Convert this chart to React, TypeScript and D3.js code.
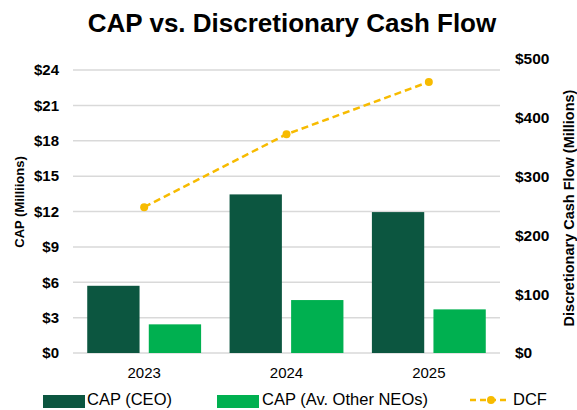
import { useEffect, useRef } from "react";
import * as d3 from "d3";

const years = ["2023", "2024", "2025"];
const capCeo = [5.7, 13.45, 11.95];
const capNeo = [2.43, 4.49, 3.7];
const dcf = [248, 372, 461];
const leftTicks = [0, 3, 6, 9, 12, 15, 18, 21, 24];
const rightTicks = [0, 100, 200, 300, 400, 500];

function App() {
  const svgRef = useRef(null);

  useEffect(() => {
    const width = 577;
    const height = 410;
    const left = 73;
    const right = 500;
    const bottom = 353;

    const colors = {
      ceo: "#0c5640",
      neo: "#00b050",
      dcf: "#f7bb00",
    };

    const svg = d3
      .select(svgRef.current)
      .attr("width", width)
      .attr("height", height)
      .style("font-family", "Liberation Sans, Arial, sans-serif");

    svg.selectAll("*").remove();

    const x = d3
      .scaleBand()
      .domain(years)
      .range([left, right])
      .paddingInner(0.2)
      .paddingOuter(0.1);

    const xSub = d3
      .scaleBand()
      .domain(["ceo", "neo"])
      .range([0, x.bandwidth()])
      .paddingInner(0.15);

    const yLeft = d3.scaleLinear().domain([0, 24]).range([bottom, 70]);
    const yRight = d3.scaleLinear().domain([0, 500]).range([bottom, 59]);

    // title
    svg
      .append("text")
      .attr("x", 292)
      .attr("y", 32)
      .attr("text-anchor", "middle")
      .style("font-size", "26px")
      .style("font-weight", "bold")
      .text("CAP vs. Discretionary Cash Flow");

    // gridlines
    svg
      .selectAll(".grid")
      .data(leftTicks)
      .enter()
      .append("line")
      .attr("x1", left)
      .attr("x2", right)
      .attr("y1", (d) => yLeft(d))
      .attr("y2", (d) => yLeft(d))
      .attr("stroke", "#d9d9d9")
      .attr("stroke-width", 1.5);

    // left tick labels
    svg
      .selectAll(".ltick")
      .data(leftTicks)
      .enter()
      .append("text")
      .attr("x", 59)
      .attr("y", (d) => yLeft(d))
      .attr("dy", "0.35em")
      .attr("text-anchor", "end")
      .style("font-size", "15px")
      .style("font-weight", "bold")
      .text((d) => `$${d}`);

    // right tick labels
    svg
      .selectAll(".rtick")
      .data(rightTicks)
      .enter()
      .append("text")
      .attr("x", 515)
      .attr("y", (d) => yRight(d))
      .attr("dy", "0.35em")
      .style("font-size", "15.5px")
      .style("font-weight", "bold")
      .text((d) => `$${d}`);

    // axis titles
    svg
      .append("text")
      .attr("transform", "translate(24,202) rotate(-90)")
      .attr("text-anchor", "middle")
      .style("font-size", "13px")
      .style("font-weight", "bold")
      .text("CAP (Milliions)");

    svg
      .append("text")
      .attr("transform", "translate(574,208) rotate(-90)")
      .attr("text-anchor", "middle")
      .style("font-size", "14.5px")
      .style("font-weight", "bold")
      .text("Discretionary Cash Flow (Millions)");

    // bars
    const groups = svg
      .selectAll(".year")
      .data(years)
      .enter()
      .append("g")
      .attr("transform", (d) => `translate(${x(d)},0)`);

    groups
      .append("rect")
      .attr("x", xSub("ceo"))
      .attr("width", xSub.bandwidth())
      .attr("y", (d, i) => yLeft(capCeo[i]))
      .attr("height", (d, i) => bottom - yLeft(capCeo[i]))
      .attr("fill", colors.ceo);

    groups
      .append("rect")
      .attr("x", xSub("neo"))
      .attr("width", xSub.bandwidth())
      .attr("y", (d, i) => yLeft(capNeo[i]))
      .attr("height", (d, i) => bottom - yLeft(capNeo[i]))
      .attr("fill", colors.neo);

    // x labels
    svg
      .selectAll(".xlabel")
      .data(years)
      .enter()
      .append("text")
      .attr("x", (d) => x(d) + x.bandwidth() / 2)
      .attr("y", 378)
      .attr("text-anchor", "middle")
      .style("font-size", "15px")
      .text((d) => d);

    // DCF line
    const line = d3
      .line()
      .x((d, i) => x(years[i]) + x.bandwidth() / 2)
      .y((d) => yRight(d));

    svg
      .append("path")
      .datum(dcf)
      .attr("d", line)
      .attr("fill", "none")
      .attr("stroke", colors.dcf)
      .attr("stroke-width", 2.5)
      .attr("stroke-dasharray", "7,4");

    svg
      .selectAll(".dot")
      .data(dcf)
      .enter()
      .append("circle")
      .attr("cx", (d, i) => x(years[i]) + x.bandwidth() / 2)
      .attr("cy", (d) => yRight(d))
      .attr("r", 4)
      .attr("fill", colors.dcf);

    // legend
    const legend = svg.append("g");
    legend
      .append("rect")
      .attr("x", 43)
      .attr("y", 395)
      .attr("width", 42)
      .attr("height", 13)
      .attr("fill", colors.ceo);
    legend
      .append("text")
      .attr("x", 87)
      .attr("y", 405)
      .style("font-size", "16.5px")
      .text("CAP (CEO)");

    legend
      .append("rect")
      .attr("x", 217)
      .attr("y", 395)
      .attr("width", 42)
      .attr("height", 13)
      .attr("fill", colors.neo);
    legend
      .append("text")
      .attr("x", 262)
      .attr("y", 405)
      .style("font-size", "16.5px")
      .text("CAP (Av. Other NEOs)");

    legend
      .append("line")
      .attr("x1", 470)
      .attr("x2", 510)
      .attr("y1", 400)
      .attr("y2", 400)
      .attr("stroke", colors.dcf)
      .attr("stroke-width", 2.5)
      .attr("stroke-dasharray", "6,4");
    legend
      .append("circle")
      .attr("cx", 491)
      .attr("cy", 400)
      .attr("r", 4)
      .attr("fill", colors.dcf);
    legend
      .append("text")
      .attr("x", 513)
      .attr("y", 405)
      .style("font-size", "16.5px")
      .text("DCF");
  }, []);

  return (
    <svg
      ref={svgRef}
      style={{ position: "absolute", left: 0, top: 0, background: "#fff" }}
    ></svg>
  );
}

export default App;
